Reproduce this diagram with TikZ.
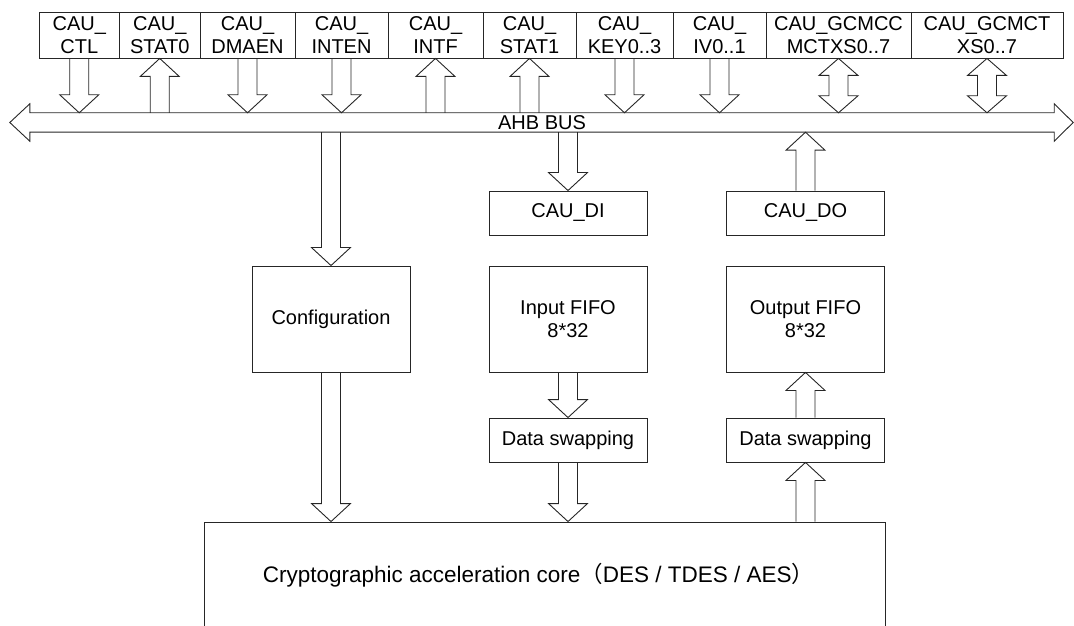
\documentclass[tikz,border=0pt]{standalone}
\usepackage{fontspec}
\setmainfont{Liberation Sans}
\newfontfamily\cjkfont{Noto Sans CJK SC}
\usetikzlibrary{calc}

% hollow block arrows: x and start from #1, tip at the y of #2
\newcommand\pipedown[2]{%
  \draw[pipe] let \p1=(#1), \p2=(#2) in
    (\x1-9.5pt,\y1) -- (\x1-9.5pt,\y2+18pt) -- (\x1-19.5pt,\y2+18pt) -- (\x1,\y2)
    -- (\x1+19.5pt,\y2+18pt) -- (\x1+9.5pt,\y2+18pt) -- (\x1+9.5pt,\y1);}
\newcommand\pipeup[2]{%
  \draw[pipe] let \p1=(#1), \p2=(#2) in
    (\x1-9.5pt,\y1) -- (\x1-9.5pt,\y2-18pt) -- (\x1-19.5pt,\y2-18pt) -- (\x1,\y2)
    -- (\x1+19.5pt,\y2-18pt) -- (\x1+9.5pt,\y2-18pt) -- (\x1+9.5pt,\y1);}
\newcommand\pipeboth[2]{%
  \draw[pipe] let \p1=(#1), \p2=(#2) in
    (\x1,\y1) -- (\x1-19.5pt,\y1-17pt) -- (\x1-9.5pt,\y1-17pt) -- (\x1-9.5pt,\y2+17pt)
    -- (\x1-19.5pt,\y2+17pt) -- (\x1,\y2) -- (\x1+19.5pt,\y2+17pt) -- (\x1+9.5pt,\y2+17pt)
    -- (\x1+9.5pt,\y1-17pt) -- (\x1+19.5pt,\y1-17pt) -- cycle;}

\begin{document}
\begin{tikzpicture}[x=1pt,y=1pt,
  font=\fontsize{20}{23}\selectfont,
  box/.style={draw=black!85,line width=0.9pt,minimum width=158,inner sep=0pt,align=center},
  pipe/.style={draw=black!85,line width=0.9pt,line join=miter}
]
\clip (0,0) rectangle (1074,625);

% register row
\foreach \reg/\cx/\w/\txt in {r1/79.25/80.5/{CAU\_\\CTL},r2/159.75/80.5/{CAU\_\\STAT0},
    r3/247.5/95/{CAU\_\\DMAEN},r4/341.5/93/{CAU\_\\INTEN},r5/435.5/95/{CAU\_\\INTF},
    r6/529.5/93/{CAU\_\\STAT1},r7/624.5/97/{CAU\_\\KEY0..3},r8/719.5/93/{CAU\_\\IV0..1},
    r9/838.5/145/{CAU\_GCMCC\\MCTXS0..7},r10/987/152/{CAU\_GCMCT\\XS0..7}}
  \node[box,minimum width=\w,minimum height=46] (\reg) at (\cx,590) {\txt};

% bus
\node[minimum width=1024,minimum height=19,inner sep=0pt] (bus) at (542,502.5) {AHB BUS};
\draw[pipe] (bus.north west) -- (bus.north east) -- ++(0,9) -- ($(bus.east)+(19,0)$)
  -- ($(bus.south east)+(0,-9)$) -- (bus.south east) -- (bus.south west) -- ++(0,-9)
  -- ($(bus.west)+(-20,0)$) -- ($(bus.north west)+(0,9)$) -- cycle;

\node[box,minimum height=106] (config) at (331,306) {Configuration};
\node[box,minimum height=44] (caudi) at (568,412) {CAU\_DI};
\node[box,minimum height=106] (infifo) at (568,306) {Input FIFO\\8*32};
\node[box,minimum height=44] (swapin) at (568,185) {Data swapping};
\node[box,minimum height=44] (caudo) at (805.5,412) {CAU\_DO};
\node[box,minimum height=106] (outfifo) at (805.5,306) {Output FIFO\\8*32};
\node[box,minimum height=44] (swapout) at (805.5,185) {Data swapping};
\node[box,minimum width=681,minimum height=106,font=\fontsize{22.5}{26}\selectfont] (core) at (544.5,50)
  {Cryptographic acceleration core{\cjkfont （}DES / TDES / AES{\cjkfont ）}\hspace*{12pt}};

% registers <-> bus
\foreach \reg in {r1,r3,r4,r7,r8} \pipedown{\reg.south}{\reg.south |- bus.north};
\foreach \reg in {r2,r5,r6} \pipeup{\reg.south |- bus.north}{\reg.south};
\foreach \reg in {r9,r10} \pipeboth{\reg.south}{\reg.south |- bus.north};

% data paths
\pipedown{config.north |- bus.south}{config.north};
\pipedown{config.south}{config.south |- core.north};
\pipedown{caudi.north |- bus.south}{caudi.north};
\pipedown{infifo.south}{swapin.north};
\pipedown{swapin.south}{swapin.south |- core.north};
\pipeup{swapout.south |- core.north}{swapout.south};
\pipeup{swapout.north}{outfifo.south};
\pipeup{caudo.north}{caudo.north |- bus.south};
\end{tikzpicture}
\end{document}
